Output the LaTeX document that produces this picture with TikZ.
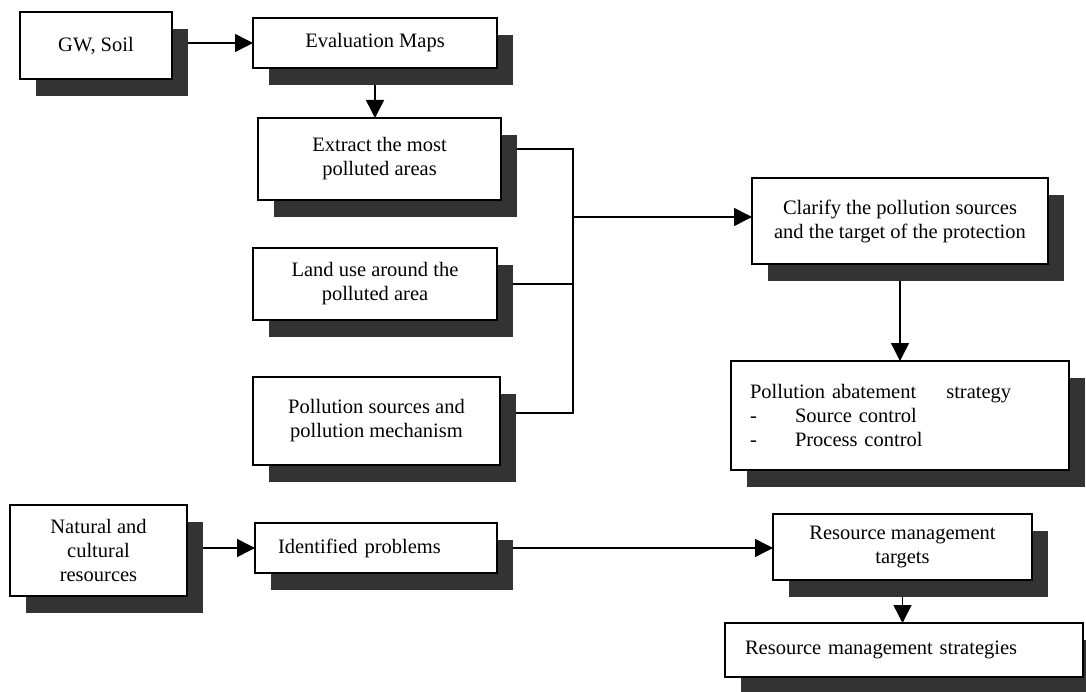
\documentclass[tikz,border=0pt]{standalone}
\usepackage{fontspec}
\setmainfont{Liberation Serif}
\usetikzlibrary{arrows.meta}
\tikzset{
  shadowbox/.style={fill=black!80, draw=none, inner sep=0pt, outer sep=0pt},
  mainbox/.style={draw=black, line width=1.6pt, fill=white, inner sep=0pt,
    outer sep=0pt, align=center, font=\fontsize{20.5}{24}\selectfont},
  conn/.style={line width=1.5pt},
  arr/.style={conn, -{Triangle[length=18pt,width=18pt]}},
}
% \flowbox[options]{name}{x1}{y1}{x2}{y2}{text}: box with a drop shadow
\newcommand\flowbox[7][]{%
  \pgfmathsetmacro\fbw{#5-#3}\pgfmathsetmacro\fbh{#6-#4}%
  \node[shadowbox, minimum width=\fbw pt, minimum height=\fbh pt,
    anchor=north west] (#2S) at (#3+16,#4+17) {};
  \node[mainbox, minimum width=\fbw pt, minimum height=\fbh pt,
    anchor=north west, #1] (#2) at (#3,#4) {#7};
}
\begin{document}
\begin{tikzpicture}[x=1pt, y=-1pt]
  \useasboundingbox (0,0) rectangle (1086,692);
  \fill[white] (0,0) rectangle (1086,692);

  % pollution branch
  \flowbox{gw}{20}{12}{172}{79}{GW, Soil}
  \flowbox{eval}{253}{18}{497}{68}{Evaluation Maps}
  \flowbox{extract}{258}{118}{501}{200}{Extract the most\\polluted areas}
  \flowbox{land}{253}{248}{497}{320}{Land use around the\\polluted area}
  \flowbox{psrc}{253}{377}{500}{465}{Pollution sources and\\pollution mechanism}
  \flowbox{clarify}{752}{178}{1048}{264}{Clarify the pollution sources\\and the target of the protection}
  \flowbox[text width=300pt, align=left]{abate}{731}{361}{1069}{470}%
    {Pollution abatement\hspace*{30pt}strategy\\\makebox[45pt][l]{-}Source control\\\makebox[45pt][l]{-}Process control}

  % resource branch
  \flowbox{natural}{10}{505}{187}{596}{Natural and\\cultural\\resources}
  \flowbox[text width=196pt, align=left]{ident}{255}{523}{497}{573}{Identified problems}
  \flowbox{targets}{773}{514}{1032}{580}{Resource management\\targets}
  \flowbox[text width=318pt, align=left]{strat}{725}{623}{1083}{677}{Resource management strategies}

  % connectors
  \coordinate (bus) at (573,217);
  \draw[arr] (gwS.east |- eval.west) -- (eval.west);
  \draw[arr] (eval.south |- evalS.south) -- (eval.south |- extract.north);
  \draw[conn] ([yshift=10pt]extract.east -| extractS.east) -| (bus);
  \draw[conn] (land.east -| landS.east) -- (land.east -| bus);
  \draw[conn] ([yshift=8pt]psrc.east -| psrcS.east) -| (bus);
  \draw[arr] (bus) -- (clarify.west |- bus);
  \draw[arr] (clarify.south |- clarifyS.south) -- (clarify.south |- abate.north);

  \draw[arr] (naturalS.east |- ident.west) -- (ident.west);
  \draw[arr] (identS.east |- ident.east) -- (targets.west |- ident.east);
  \draw[arr] (targets.south |- targetsS.south) -- (targets.south |- strat.north);
\end{tikzpicture}
\end{document}
